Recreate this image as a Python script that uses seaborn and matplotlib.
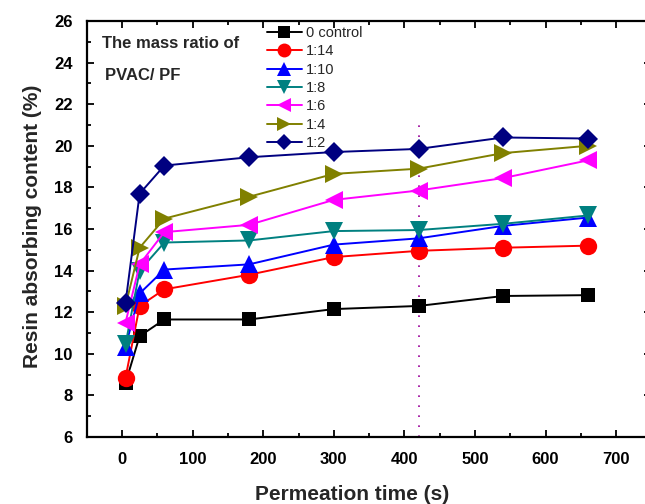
import matplotlib
matplotlib.use("Agg")
import matplotlib.pyplot as plt
import seaborn as sns
import numpy as np
import pandas as pd
from matplotlib.ticker import MultipleLocator

sns.set_style("ticks")
plt.rcParams['font.family'] = ['Liberation Sans', 'DejaVu Sans']

# ---- data ----
time_s = [5, 25, 60, 180, 300, 420, 540, 660]
labels = ['0 control', '1:14', '1:10', '1:8', '1:6', '1:4', '1:2']
control = [8.6, 10.85, 11.65, 11.65, 12.15, 12.3, 12.78, 12.82]
r1_14 = [8.85, 12.3, 13.1, 13.8, 14.65, 14.95, 15.1, 15.2]
r1_10 = [10.35, 12.9, 14.05, 14.3, 15.25, 15.55, 16.15, 16.55]
r1_8 = [10.45, 14.0, 15.35, 15.45, 15.9, 15.95, 16.25, 16.65]
r1_6 = [11.5, 14.3, 15.85, 16.2, 17.4, 17.85, 18.45, 19.3]
r1_4 = [12.3, 15.1, 16.5, 17.55, 18.65, 18.9, 19.65, 20.0]
r1_2 = [12.45, 17.7, 19.05, 19.45, 19.7, 19.85, 20.4, 20.35]
series = [control, r1_14, r1_10, r1_8, r1_6, r1_4, r1_2]

colors = ['#000000', '#FF0000', '#0000FF', '#008080', '#FF00FF', '#808000', '#000080']
markers = ['s', 'o', '^', 'v', '<', '>', 'D']
msizes = [10, 12.5, 13, 13, 13, 13, 10]

ref_x = 420
ref_y = [6, 21.3]

df = pd.DataFrame({
    'time': np.tile(time_s, len(labels)),
    'value': np.concatenate(series),
    'ratio': np.repeat(labels, len(time_s)),
})

fig = plt.figure(figsize=(6.45, 5.04), dpi=100)
ax = fig.add_axes([86.7 / 645, (504 - 437) / 504, 564.8 / 645, 416 / 504])

ax.plot([ref_x, ref_x], ref_y, linestyle=(0, (1, 5)), color='#990099', lw=1.2, zorder=1)

for lab, col, mk, ms in zip(labels, colors, markers, msizes):
    sub = df[df['ratio'] == lab]
    sns.lineplot(data=sub, x='time', y='value', ax=ax, color=col, marker=mk,
                 markersize=ms, markeredgewidth=0, linewidth=1.4, label=lab,
                 estimator=None, sort=False)

ax.set_xlim(-50, 750)
ax.set_ylim(6, 26)
ax.xaxis.set_major_locator(MultipleLocator(100))
ax.xaxis.set_minor_locator(MultipleLocator(50))
ax.yaxis.set_major_locator(MultipleLocator(2))
ax.yaxis.set_minor_locator(MultipleLocator(1))

for s in ax.spines.values():
    s.set_linewidth(1.6)
    s.set_color('black')

ax.tick_params(which='both', direction='in', top=True, right=True, width=1.3, colors='black')
ax.tick_params(which='major', length=5)
ax.tick_params(which='minor', length=3)
ax.tick_params(axis='x', which='major', pad=11)
ax.tick_params(axis='y', which='major', pad=10)
for t in ax.get_xticklabels() + ax.get_yticklabels():
    t.set_fontsize(12)
    t.set_fontweight('bold')

ax.set_xlabel('Permeation time (s)', fontsize=15, fontweight='bold')
ax.set_ylabel('Resin absorbing content (%)', fontsize=15, fontweight='bold')
ax.xaxis.set_label_coords((352 - 86.7) / 564.8, -(485 - 437) / 416)
ax.yaxis.set_label_coords(-(86.7 - 42) / 564.8, 0.507)

ax.text(0.027, 0.935, 'The mass ratio of', transform=ax.transAxes, fontsize=12,
        fontweight='bold', va='baseline', ha='left')
ax.text(0.032, 0.858, 'PVAC/ PF', transform=ax.transAxes, fontsize=12,
        fontweight='bold', va='baseline', ha='left')

handles, labs = ax.get_legend_handles_labels()
ax.legend(handles, labs, loc='upper left', bbox_to_anchor=(0.319, 0.988), frameon=False,
          fontsize=10.5, handlelength=2.4, handletextpad=0.3, labelspacing=0.3,
          borderpad=0, borderaxespad=0, markerscale=0.8)

fig.savefig('out.png', dpi=100)
